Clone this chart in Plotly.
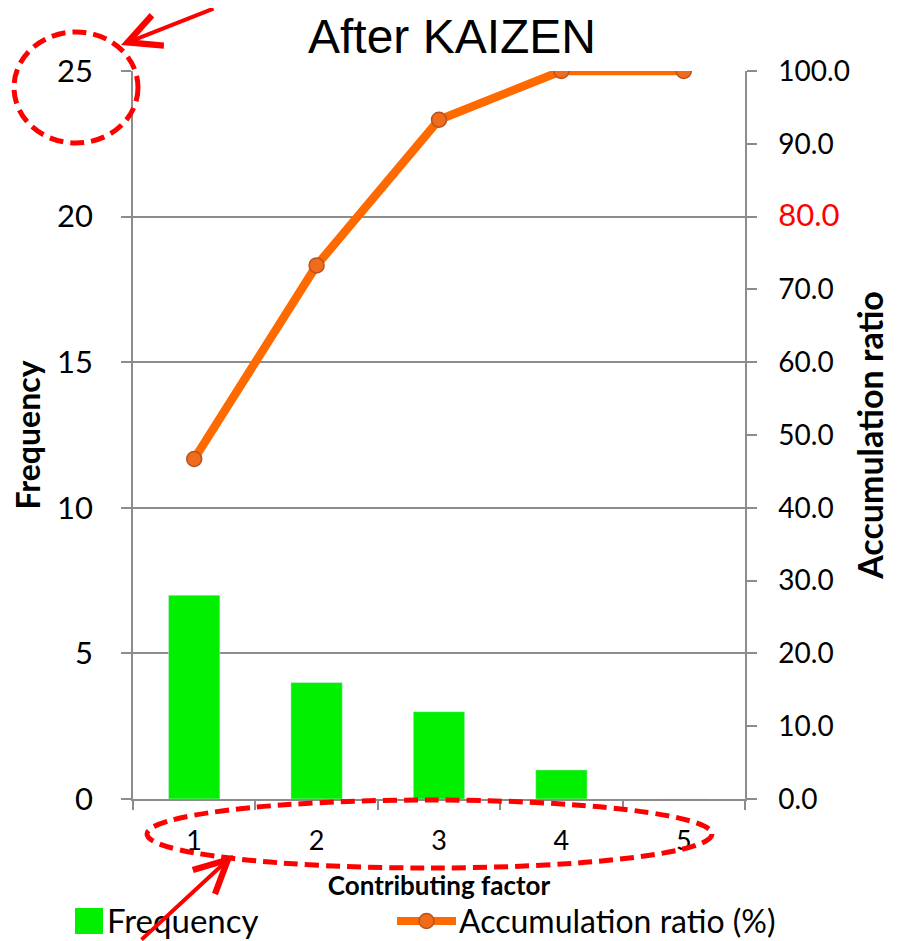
import plotly.graph_objects as go

# data
factors = ["1", "2", "3", "4", "5"]
frequency = [7, 4, 3, 1, 0]
accumulation = [46.7, 73.3, 93.3, 100.0, 100.0]

y2_ticks = [0, 10, 20, 30, 40, 50, 60, 70, 80, 90, 100]
y2_text = ["0.0", "10.0", "20.0", "30.0", "40.0", "50.0", "60.0", "70.0",
           "<span style='color:#FF0000;font-size:31px'>80.0</span>", "90.0", "100.0"]

# the page body has an 8px margin, so the figure is 8px smaller and
# all pixel positions below are page positions minus 8
OFF = 8
W, H = 908 - OFF, 941 - OFF
L, R, T, B = 133 - OFF, 745 - OFF, 71 - OFF, 799 - OFF


def px(x):
    return (x - OFF - L) / (R - L)


def py(y):
    return (B - (y - OFF)) / (B - T)


FONT = "Lato"
GRID = "#8C8C8C"
GREEN = "#00F000"
ORANGE = "#FF6A00"

fig = go.Figure()
fig.add_trace(go.Bar(
    x=factors, y=frequency, name="Frequency",
    marker_color=GREEN, width=0.42, showlegend=False,
))
fig.add_trace(go.Scatter(
    x=factors, y=accumulation, name="Accumulation ratio (%)", yaxis="y2",
    mode="lines+markers", showlegend=False,
    line=dict(color=ORANGE, width=8.5),
    marker=dict(size=15, color="#F26B1D", line=dict(color="#B5541C", width=1.5)),
))

fig.update_layout(
    width=W, height=H,
    margin=dict(l=L, r=W - R, t=T, b=H - B, autoexpand=False),
    paper_bgcolor="white", plot_bgcolor="white",
    font=dict(family=FONT, color="black"),
    title=dict(text="After KAIZEN", x=(452 - OFF) / W, xref="container", xanchor="center",
               y=1 - (36 - OFF) / H, yref="container", yanchor="middle",
               font=dict(family="Liberation Sans", size=48, color="black")),
    xaxis=dict(
        type="category", range=[-0.5, 4.5],
        showline=True, linecolor=GRID, linewidth=1.5,
        ticks="outside", tickson="boundaries", ticklen=9, tickcolor=GRID, tickwidth=1.5,
        tickfont=dict(size=27), ticklabelstandoff=17,
        title=dict(text="<b>Contributing factor</b>", font=dict(size=26), standoff=22),
        showgrid=False, automargin=False,
    ),
    yaxis=dict(
        range=[0, 25], tickvals=[0, 5, 10, 15, 20, 25],
        showline=True, linecolor=GRID, linewidth=1.5,
        ticks="outside", ticklen=10, tickcolor=GRID, tickwidth=1.5,
        showgrid=True, gridcolor=GRID, gridwidth=1.5,
        tickfont=dict(size=31), ticklabelstandoff=22,
        title=dict(text="<b>Frequency</b>", font=dict(size=32), standoff=12),
        zeroline=False, automargin=False,
    ),
    yaxis2=dict(
        overlaying="y", side="right", range=[0, 100],
        tickvals=y2_ticks, ticktext=y2_text,
        showline=True, linecolor=GRID, linewidth=1.5,
        ticks="outside", ticklen=10, tickcolor=GRID, tickwidth=1.5,
        showgrid=False, zeroline=False,
        tickfont=dict(size=28), ticklabelstandoff=16,
        title=dict(text="<b>Accumulation ratio</b>", font=dict(size=34), standoff=10),
        automargin=False,
    ),
    showlegend=False,
)

# legend drawn by hand: green swatch + orange line with a marker
fig.add_shape(type="rect", xref="paper", yref="paper",
              x0=px(75), x1=px(103), y0=py(934), y1=py(908),
              fillcolor=GREEN, line_width=0)
fig.add_annotation(xref="paper", yref="paper", x=px(105), y=py(920),
                   xanchor="left", yanchor="middle", showarrow=False,
                   text="Frequency", font=dict(size=33))
fig.add_shape(type="line", xref="paper", yref="paper",
              x0=px(397), x1=px(456), y0=py(921), y1=py(921),
              line=dict(color=ORANGE, width=8))
fig.add_shape(type="circle", xref="paper", yref="paper",
              x0=px(419), x1=px(434), y0=py(928.5), y1=py(913.5),
              fillcolor="#F26B1D", line=dict(color="#B5541C", width=1.5))
fig.add_annotation(xref="paper", yref="paper", x=px(457), y=py(920),
                   xanchor="left", yanchor="middle", showarrow=False,
                   text="Accumulation ratio (%)", font=dict(size=32))

# red dashed call-out ellipses
for x0, y0, x1, y1 in [(14, 32, 138, 143), (147, 800, 712, 868)]:
    fig.add_shape(type="circle", xref="paper", yref="paper",
                  x0=px(x0), x1=px(x1), y0=py(y1), y1=py(y0),
                  line=dict(color="#FF0000", width=5, dash="14px,7px"))

# red arrows pointing at the call-outs
for hx, hy, tx, ty in [(121, 45, 215, -5), (233, 855, 140, 950)]:
    fig.add_annotation(xref="paper", yref="paper", x=px(hx), y=py(hy),
                       ax=tx - hx, ay=ty - hy, text="", showarrow=True,
                       arrowhead=5, arrowsize=1.6, arrowwidth=4,
                       arrowcolor="#FF0000", standoff=0)

fig.write_html("out.html")
